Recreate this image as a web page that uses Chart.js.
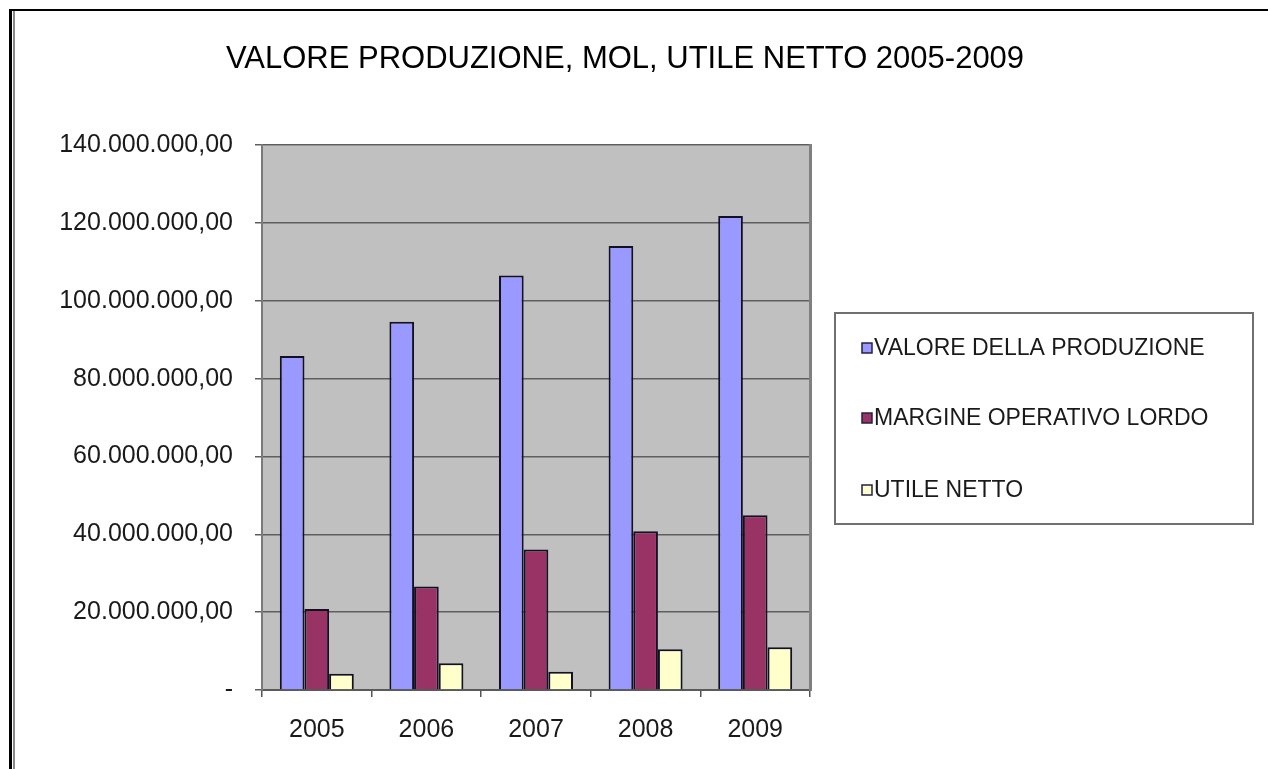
<!DOCTYPE html>
<html>
<head>
<meta charset="utf-8">
<script src="https://cdn.jsdelivr.net/npm/chart.js@4.4.1/dist/chart.umd.min.js"></script>
<style>
  html, body { margin: 0; padding: 0; background: #ffffff; overflow: hidden; }
  #frame { position: absolute; left: 9px; top: 9px; width: 1300px; height: 800px;
           border-top: 2px solid #000; border-left: 3px solid #000; box-sizing: border-box; }
  #frame2 { position: absolute; left: 13px; top: 11px; width: 2px; height: 800px; background: #8a8a8a; }
  #wrap { position: absolute; left: 0; top: 0; width: 1268px; height: 769px; }
</style>
</head>
<body>
<div id="frame"></div>
<div id="frame2"></div>
<div id="wrap"><canvas id="c"></canvas></div>
<script>
const categories = ['2005', '2006', '2007', '2008', '2009'];
const seriesNames = ['VALORE DELLA PRODUZIONE', 'MARGINE OPERATIVO LORDO', 'UTILE NETTO'];
const valoreProduzione = [85800000, 94600000, 106500000, 114100000, 121800000];
const margineOperativoLordo = [20800000, 26600000, 36100000, 40800000, 44900000];
const utileNetto = [4200000, 6900000, 4700000, 10500000, 11000000];
const yTicks = [0, 20000000, 40000000, 60000000, 80000000, 100000000, 120000000, 140000000];
const yTickLabels = ['-', '20.000.000,00', '40.000.000,00', '60.000.000,00', '80.000.000,00',
                     '100.000.000,00', '120.000.000,00', '140.000.000,00'];
const titleText = 'VALORE PRODUZIONE, MOL, UTILE NETTO 2005-2009';
const colors = ['#9999ff', '#993366', '#ffffcc'];

const FONT = "'Liberation Sans', Arial, sans-serif";

const plotBg = {
  id: 'plotBg',
  beforeDraw(chart) {
    const {ctx, chartArea: a} = chart;
    ctx.save();
    ctx.fillStyle = '#c0c0c0';
    ctx.fillRect(a.left, a.top, a.right - a.left, a.bottom - a.top);
    ctx.restore();
  }
};

const customLegend = {
  id: 'customLegend',
  afterDraw(chart) {
    const ctx = chart.ctx;
    ctx.save();
    ctx.strokeStyle = '#707070';
    ctx.lineWidth = 2;
    ctx.strokeRect(835, 313, 418, 211);
    const ys = [348, 418, 490];
    ctx.font = "23px " + FONT;
    ctx.textBaseline = 'middle';
    ctx.textAlign = 'left';
    chart.data.datasets.forEach((ds, i) => {
      ctx.fillStyle = ds.backgroundColor;
      ctx.fillRect(862, ys[i] - 5, 10, 10);
      ctx.strokeStyle = '#222244';
      ctx.lineWidth = 1.5;
      ctx.strokeRect(862, ys[i] - 5, 10, 10);
      ctx.fillStyle = '#1a1a1a';
      ctx.fillText(ds.label, 874, ys[i] + 1);
    });
    ctx.restore();
  }
};

new Chart(document.getElementById('c'), {
  type: 'bar',
  data: {
    labels: categories,
    datasets: [
      { label: seriesNames[0], data: valoreProduzione, backgroundColor: colors[0] },
      { label: seriesNames[1], data: margineOperativoLordo, backgroundColor: colors[1] },
      { label: seriesNames[2], data: utileNetto, backgroundColor: colors[2] }
    ]
  },
  options: {
    responsive: true,
    maintainAspectRatio: false,
    animation: false,
    layout: { padding: { left: 0, right: 18, top: 0, bottom: 6 } },
    datasets: {
      bar: { categoryPercentage: 0.675, barPercentage: 1.0, borderWidth: 2, borderColor: '#111122' }
    },
    plugins: {
      legend: { display: false },
      tooltip: { enabled: false },
      title: {
        display: true,
        text: titleText,
        color: '#000000',
        font: { family: FONT, size: 31, weight: 'normal' },
        padding: { top: 41, bottom: 67 }
      }
    },
    scales: {
      x: {
        grid: { offset: true, drawOnChartArea: false, drawTicks: true, tickLength: 7, color: '#555555', lineWidth: 1.5 },
        border: { display: true, color: '#5a5a5a', width: 2 },
        ticks: { color: '#1a1a1a', font: { family: FONT, size: 25 }, padding: 18, maxRotation: 0 }
      },
      y: {
        min: 0, max: 140000000,
        afterBuildTicks(scale) { scale.ticks = yTicks.map(v => ({ value: v })); },
        afterFit(scale) { scale.width = 262; },
        grid: { color: '#5e5e5e', lineWidth: 1.5, drawTicks: true, tickLength: 7 },
        border: { display: true, color: '#7a7a7a', width: 2 },
        ticks: {
          color: '#1a1a1a', font: { family: FONT, size: 25 }, padding: 22,
          callback: (v) => { const i = yTicks.indexOf(v); return i >= 0 ? yTickLabels[i] : ''; }
        }
      },
      yR: {
        position: 'right', min: 0, max: 140000000,
        afterFit(scale) { scale.width = 440; },
        grid: { drawOnChartArea: false, drawTicks: false },
        border: { display: true, color: '#808080', width: 3 },
        ticks: { display: false }
      }
    }
  },
  plugins: [plotBg, customLegend]
});
</script>
</body>
</html>
